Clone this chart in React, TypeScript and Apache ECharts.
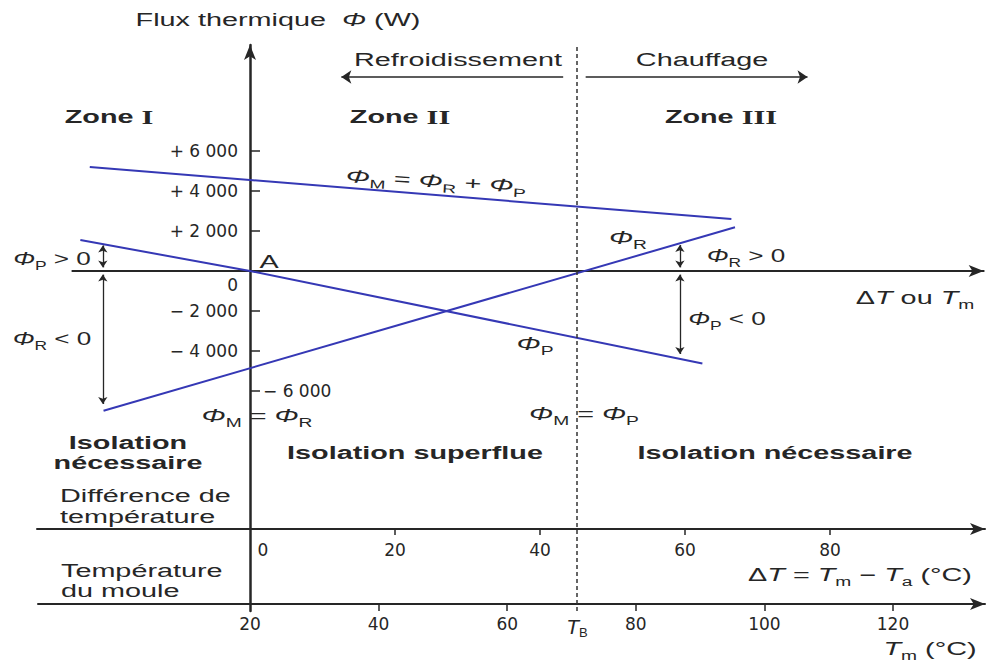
import React, { useEffect, useRef } from 'react';
import * as echarts from 'echarts';

// ---------------- data ----------------
// Main diagram: x = ΔT (°C), y = Φ (W)
const phiMLine: [number, number][] = [[-22.1, 5200], [66.4, 2600]];
const phiPLine: [number, number][] = [[-23.4, 1550], [0, 0], [62.4, -4620]];
const phiRLine: [number, number][] = [[-20.2, -6985], [66.9, 2185]];
const deltaTB = 45.1; // ΔT at T_B (dashed line)
const tmTB = 70.85; // Tm at T_B

const yTickValues = [6000, 4000, 2000, -2000, -4000, -6000];
const yLabelValues = [6000, 4000, 2000, 0, -2000, -4000];
const yLabelTexts = ['+ 6 000', '+ 4 000', '+ 2 000', '0', '− 2 000', '− 4 000'];
const yExtraLabelValue = -6000;
const yExtraLabelText = '− 6 000';

const dtTickValues = [20, 40, 60, 80];
const dtLabelValues = [0, 20, 40, 60, 80];
const tmTickValues = [40, 60, 80, 100, 120];
const tmLabelValues = [20, 40, 60, tmTB, 80, 100, 120];

// sign arrows (double headed): [ΔT, Φ from, Φ to]
const signArrows: [number, number, number][] = [
  [-20.3, 180, 1280],
  [-20.3, -180, -6650],
  [59.3, 180, 1300],
  [59.3, -180, -4150],
];
// direction arrows: [ΔT from, ΔT to, Φ]
const dirArrows: [number, number, number][] = [
  [43.2, 12.6, 9700],
  [46.3, 76.9, 9700],
];

// ---------------- styles ----------------
const FONT = "'Liberation Sans', Arial, Helvetica, sans-serif";
const SERIF = "'Liberation Serif', 'DejaVu Serif', serif";
const NUMFONT = "'DejaVu Sans', sans-serif";
const INK = '#262626';
const BLUE = '#3538b5';
const SX = 1.6;

const tok = (extra: any) => ({
  fontFamily: FONT,
  fontSize: 18,
  fill: INK,
  color: INK,
  lineHeight: 20,
  ...extra,
});
const RICH = {
  n: tok({}),
  p: tok({ fontStyle: 'italic' }),
  s: tok({ fontSize: 12, lineHeight: 13, padding: [14, 0, 0, 0] }),
  zb: tok({ fontWeight: 'bold' }),
  r: tok({ fontWeight: 'bold', fontFamily: SERIF, fontSize: 19 }),
};

function txt(x: number, y: number, text: string, opt: any = {}) {
  const align = opt.align || 'center';
  return {
    type: 'text',
    x,
    y,
    scaleX: opt.sx ?? SX,
    rotation: opt.rot ?? 0,
    silent: true,
    z: 10,
    style: {
      text,
      fill: INK,
      fontFamily: opt.font ?? FONT,
      fontSize: opt.size ?? 18,
      fontWeight: opt.bold ? 'bold' : 'normal',
      lineHeight: opt.lh ?? 20,
      align,
      textAlign: align,
      verticalAlign: 'middle',
      textVerticalAlign: 'middle',
      rich: RICH,
    },
  };
}

const PHI = (sub: string) => `{p|Φ}{s|${sub}}`;

const GRID0_LEFT = 72.375;
const GRID0_WIDTH = 911.3;
const DT_MIN = -24.5;
const DT_MAX = 101.2;

export default function App() {
  const ref = useRef<HTMLDivElement>(null);

  useEffect(() => {
    if (!ref.current) return;
    const chart = echarts.init(ref.current, null, { renderer: 'svg' });

    const numLabel = {
      color: INK,
      fontFamily: NUMFONT,
      fontSize: 17,
    };

    // y axis sits where ΔT = 0
    const yAxisOffset = -((0 - DT_MIN) / (DT_MAX - DT_MIN)) * GRID0_WIDTH;

    const option: any = {
      animation: false,
      backgroundColor: '#ffffff',
      grid: [
        { left: GRID0_LEFT, top: 45, width: GRID0_WIDTH, height: 566, containLabel: false, outerBoundsMode: 'none' },
        { left: 37, top: 500, width: 948, height: 29, containLabel: false, outerBoundsMode: 'none' },
        { left: 38, top: 575, width: 947, height: 29, containLabel: false, outerBoundsMode: 'none' },
      ],
      xAxis: [
        {
          type: 'value',
          gridIndex: 0,
          min: DT_MIN,
          max: DT_MAX,
          axisLine: {
            onZero: true,
            symbol: ['none', 'arrow'],
            symbolSize: [9, 15],
            lineStyle: { color: INK, width: 2 },
          },
          axisTick: { show: false },
          axisLabel: { show: false },
          splitLine: { show: false },
        },
        {
          type: 'value',
          gridIndex: 1,
          min: -29.379,
          max: 101.379,
          position: 'bottom',
          axisLine: {
            onZero: false,
            symbol: ['none', 'arrow'],
            symbolSize: [9, 15],
            lineStyle: { color: INK, width: 2 },
          },
          axisTick: {
            show: true,
            customValues: dtTickValues,
            length: 6,
            lineStyle: { color: INK, width: 1.5 },
          },
          axisLabel: {
            ...numLabel,
            customValues: dtLabelValues,
            margin: 12,
            formatter: (v: number) => (v === 0 ? '{o|0}' : String(v)),
            rich: { o: { ...numLabel, padding: [0, 0, 0, 26] } },
          },
          splitLine: { show: false },
        },
        {
          type: 'value',
          gridIndex: 2,
          min: -12.97,
          max: 134.308,
          position: 'bottom',
          axisLine: {
            onZero: false,
            symbol: ['none', 'arrow'],
            symbolSize: [9, 15],
            lineStyle: { color: INK, width: 2 },
          },
          axisTick: {
            show: true,
            customValues: tmTickValues,
            length: 7,
            lineStyle: { color: INK, width: 1.5 },
          },
          axisLabel: {
            ...numLabel,
            customValues: tmLabelValues,
            margin: 11,
            formatter: (v: number) => (Math.abs(v - tmTB) < 0.01 ? '{i|T}{b|B}' : String(v)),
            rich: {
              i: { color: INK, fontStyle: 'italic', fontFamily: FONT, fontSize: 21, lineHeight: 22 },
              b: { color: INK, fontFamily: FONT, fontSize: 13, lineHeight: 14, padding: [12, 0, 0, 0] },
            },
          },
          splitLine: { show: false },
        },
      ],
      yAxis: [
        {
          type: 'value',
          gridIndex: 0,
          min: -17000,
          max: 11300,
          offset: yAxisOffset,
          axisLine: {
            onZero: false,
            symbol: ['none', 'arrow'],
            symbolSize: [9, 15],
            lineStyle: { color: INK, width: 2.5 },
          },
          axisTick: {
            show: true,
            inside: true,
            length: 10,
            customValues: yTickValues,
            lineStyle: { color: INK, width: 1.5 },
          },
          axisLabel: {
            ...numLabel,
            customValues: yLabelValues,
            margin: 12,
            formatter: (v: number) => {
              const i = yLabelValues.indexOf(v);
              const t = i >= 0 ? yLabelTexts[i] : '';
              return v === 0 ? `{z|${t}}` : t;
            },
            rich: { z: { ...numLabel, padding: [28, 0, 0, 0] } },
          },
          splitLine: { show: false },
        },
        { type: 'value', gridIndex: 1, show: false },
        { type: 'value', gridIndex: 2, show: false },
      ],
      series: [
        {
          type: 'line',
          name: 'ΦM',
          xAxisIndex: 0,
          yAxisIndex: 0,
          data: phiMLine,
          symbol: 'none',
          showSymbol: false,
          silent: true,
          lineStyle: { color: BLUE, width: 2 },
          markLine: {
            silent: true,
            symbol: ['arrow', 'arrow'],
            symbolSize: 7,
            label: { show: false },
            emphasis: { disabled: true },
            lineStyle: { color: INK, width: 1.3, type: 'solid' },
            data: signArrows.map(([x, a, b]) => [{ coord: [x, a] }, { coord: [x, b] }]),
          },
        },
        {
          type: 'line',
          name: 'ΦP',
          xAxisIndex: 0,
          yAxisIndex: 0,
          data: phiPLine,
          symbol: 'none',
          showSymbol: false,
          silent: true,
          lineStyle: { color: BLUE, width: 2 },
          markLine: {
            silent: true,
            symbol: ['none', 'arrow'],
            symbolSize: 10,
            label: { show: false },
            emphasis: { disabled: true },
            lineStyle: { color: INK, width: 1.6, type: 'solid' },
            data: dirArrows.map(([a, b, y]) => [{ coord: [a, y] }, { coord: [b, y] }]),
          },
        },
        {
          type: 'line',
          name: 'ΦR',
          xAxisIndex: 0,
          yAxisIndex: 0,
          data: phiRLine,
          symbol: 'none',
          showSymbol: false,
          silent: true,
          lineStyle: { color: BLUE, width: 2 },
          markLine: {
            silent: true,
            symbol: ['none', 'none'],
            label: { show: false },
            emphasis: { disabled: true },
            lineStyle: { color: '#333', width: 1.5, type: [4, 3] },
            data: [{ xAxis: deltaTB }],
          },
        },
      ],
      graphic: {
        elements: [
          txt(278, 20, '{n|Flux thermique  }{p|Φ}{n| (W)}'),
          txt(458, 60, 'Refroidissement'),
          txt(702, 60, 'Chauffage'),
          txt(109, 117, '{zb|Zone }{r|I}', { bold: true }),
          txt(400, 117, '{zb|Zone }{r|II}', { bold: true }),
          txt(721, 117, '{zb|Zone }{r|III}', { bold: true }),
          txt(436, 181, `${PHI('M')}{n| = }${PHI('R')}{n| + }${PHI('P')}`, { rot: -0.06 }),
          txt(269, 262, 'A'),
          txt(52, 259, `${PHI('P')}{n| > 0}`, { sx: 1.45 }),
          txt(52, 339, `${PHI('R')}{n| < 0}`, { sx: 1.45 }),
          txt(628, 238, PHI('R')),
          txt(535, 344, PHI('P')),
          txt(746, 256, `${PHI('R')}{n| > 0}`, { sx: 1.45 }),
          txt(727, 319, `${PHI('P')}{n| < 0}`, { sx: 1.45 }),
          txt(915, 298, '{n|Δ}{p|T}{n| ou }{p|T}{s|m}'),
          txt(257, 416, `${PHI('M')}{n| = }${PHI('R')}`),
          txt(584, 414, `${PHI('M')}{n| = }${PHI('P')}`),
          txt(128, 453, 'Isolation\nnécessaire', { bold: true }),
          txt(415, 453, 'Isolation superflue', { bold: true }),
          txt(775, 453, 'Isolation nécessaire', { bold: true }),
          txt(60, 506, 'Différence de\ntempérature', { align: 'left', lh: 21 }),
          txt(61, 581, 'Température\ndu moule', { align: 'left', lh: 20 }),
          txt(860, 575, '{n|Δ}{p|T}{n| = }{p|T}{s|m}{n| − }{p|T}{s|a}{n| (°C)}'),
          txt(930, 649, '{p|T}{s|m}{n| (°C)}'),
        ],
      },
    };

    chart.setOption(option);

    // the "− 6 000" tick label sits to the right of the axis
    const p = chart.convertToPixel({ gridIndex: 0 } as any, [0, yExtraLabelValue]) as number[];
    chart.setOption({
      graphic: {
        elements: [
          ...option.graphic.elements,
          txt(p[0] + 13, p[1], yExtraLabelText, { align: 'left', sx: 1, font: NUMFONT, size: 17 }),
        ],
      },
    });

    return () => chart.dispose();
  }, []);

  return (
    <div
      ref={ref}
      style={{ position: 'fixed', left: 0, top: 0, width: 998, height: 666, background: '#fff' }}
    />
  );
}
